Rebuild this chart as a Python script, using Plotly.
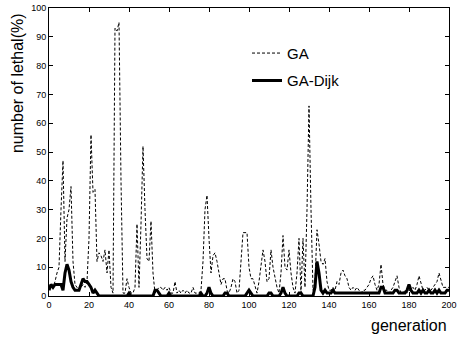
import plotly.graph_objects as go

generation = list(range(201))

ga = [3, 4, 3, 5, 8, 10, 30, 47, 12, 27, 30, 38, 12, 4, 3, 2, 3, 4, 3, 5,
      20, 56, 36, 37, 12, 15, 14, 12, 16, 8, 16, 3, 1, 93, 92, 95, 40, 1, 1, 6,
      3, 1, 1, 3, 25, 3, 25, 52, 30, 13, 12, 26, 8, 1, 2, 3, 3, 2, 3, 2,
      3, 1, 1, 5, 1, 2, 1, 2, 1, 2, 1, 1, 3, 1, 1, 1, 2, 12, 30, 35,
      20, 8, 14, 15, 12, 8, 4, 6, 6, 2, 1, 3, 6, 5, 1, 2, 12, 22, 22, 22,
      10, 6, 6, 3, 1, 5, 10, 16, 12, 5, 6, 16, 10, 6, 3, 1, 8, 21, 10, 9,
      16, 8, 3, 1, 8, 20, 1, 20, 3, 30, 66, 30, 2, 5, 23, 18, 12, 11, 13, 5,
      2, 2, 3, 2, 5, 4, 8, 9, 7, 6, 3, 2, 3, 2, 3, 2, 1, 2, 2, 3,
      4, 6, 7, 4, 2, 4, 11, 4, 2, 2, 1, 2, 3, 5, 7, 3, 1, 1, 2, 1,
      2, 2, 3, 2, 4, 7, 4, 2, 2, 3, 2, 2, 3, 4, 5, 8, 5, 3, 3, 3, 3]

ga_dijk = [2, 4, 3, 4, 4, 4, 4, 2, 8, 11, 9, 5, 3, 2, 2, 2, 4, 6, 5, 5,
           4, 3, 1, 2, 1, 0, 0, 0, 0, 0, 0, 0, 0, 0, 0, 0, 0, 0, 0, 0,
           1, 0, 0, 0, 0, 0, 0, 0, 0, 0, 0, 0, 0, 2, 2, 1, 0, 0, 0, 0,
           1, 0, 0, 0, 0, 0, 0, 0, 0, 0, 0, 0, 0, 0, 0, 0, 1, 0, 0, 1,
           3, 1, 0, 0, 0, 0, 0, 0, 1, 1, 0, 0, 0, 0, 0, 0, 0, 0, 0, 1,
           2, 1, 0, 0, 0, 0, 0, 0, 0, 0, 1, 1, 0, 0, 0, 0, 1, 3, 1, 0,
           0, 0, 0, 0, 0, 1, 1, 0, 0, 0, 0, 0, 0, 3, 12, 8, 2, 1, 2, 1,
           1, 1, 2, 1, 1, 1, 1, 1, 1, 1, 1, 1, 1, 1, 1, 1, 1, 1, 1, 1,
           1, 1, 1, 1, 1, 1, 3, 3, 1, 1, 1, 1, 1, 2, 2, 1, 1, 1, 1, 2,
           4, 2, 1, 1, 1, 2, 1, 2, 1, 1, 2, 1, 1, 2, 1, 2, 1, 1, 1, 2, 2]

x_ticks = [0, 20, 40, 60, 80, 100, 120, 140, 160, 180, 200]
y_ticks = [0, 10, 20, 30, 40, 50, 60, 70, 80, 90, 100]

font = "Liberation Sans, Arial, sans-serif"

fig = go.Figure()
fig.add_trace(go.Scatter(x=generation, y=ga, mode="lines", name="GA",
                         legendgroup="a",
                         line=dict(color="black", width=1, dash="3px,2px")))
fig.add_trace(go.Scatter(x=generation, y=ga_dijk, mode="lines", name="GA-Dijk",
                         legendgroup="b",
                         line=dict(color="black", width=3)))

axis_common = dict(showline=True, linecolor="black", linewidth=1, mirror="ticks",
                   ticks="inside", ticklen=4, tickcolor="black", showgrid=False,
                   zeroline=False, automargin=False,
                   tickfont=dict(family=font, size=9, color="black"))

fig.update_xaxes(range=[0, 200], tickvals=x_ticks, **axis_common)
fig.update_yaxes(range=[0, 100], tickvals=y_ticks, **axis_common)

fig.add_annotation(text="number of lethal(%)", xref="paper", yref="paper",
                   x=-0.077, y=0.74, xanchor="center", yanchor="middle",
                   textangle=-90, showarrow=False,
                   font=dict(family=font, size=16, color="black"))

fig.add_annotation(text="generation", xref="paper", yref="paper",
                   x=1.0, y=-0.104, xanchor="right", yanchor="middle",
                   showarrow=False, font=dict(family=font, size=16, color="black"))

fig.update_layout(
    width=457, height=340,
    margin=dict(l=49, r=8, t=8, b=44),
    paper_bgcolor="white", plot_bgcolor="white",
    legend=dict(x=0.495, y=0.90, xanchor="left", yanchor="top",
                bgcolor="rgba(0,0,0,0)", traceorder="grouped", tracegroupgap=5,
                font=dict(family=font, size=15, color="black")),
)

fig.write_html("out.html", config={"displayModeBar": False},
               post_script="document.body.style.margin='0';document.body.style.padding='0';")
